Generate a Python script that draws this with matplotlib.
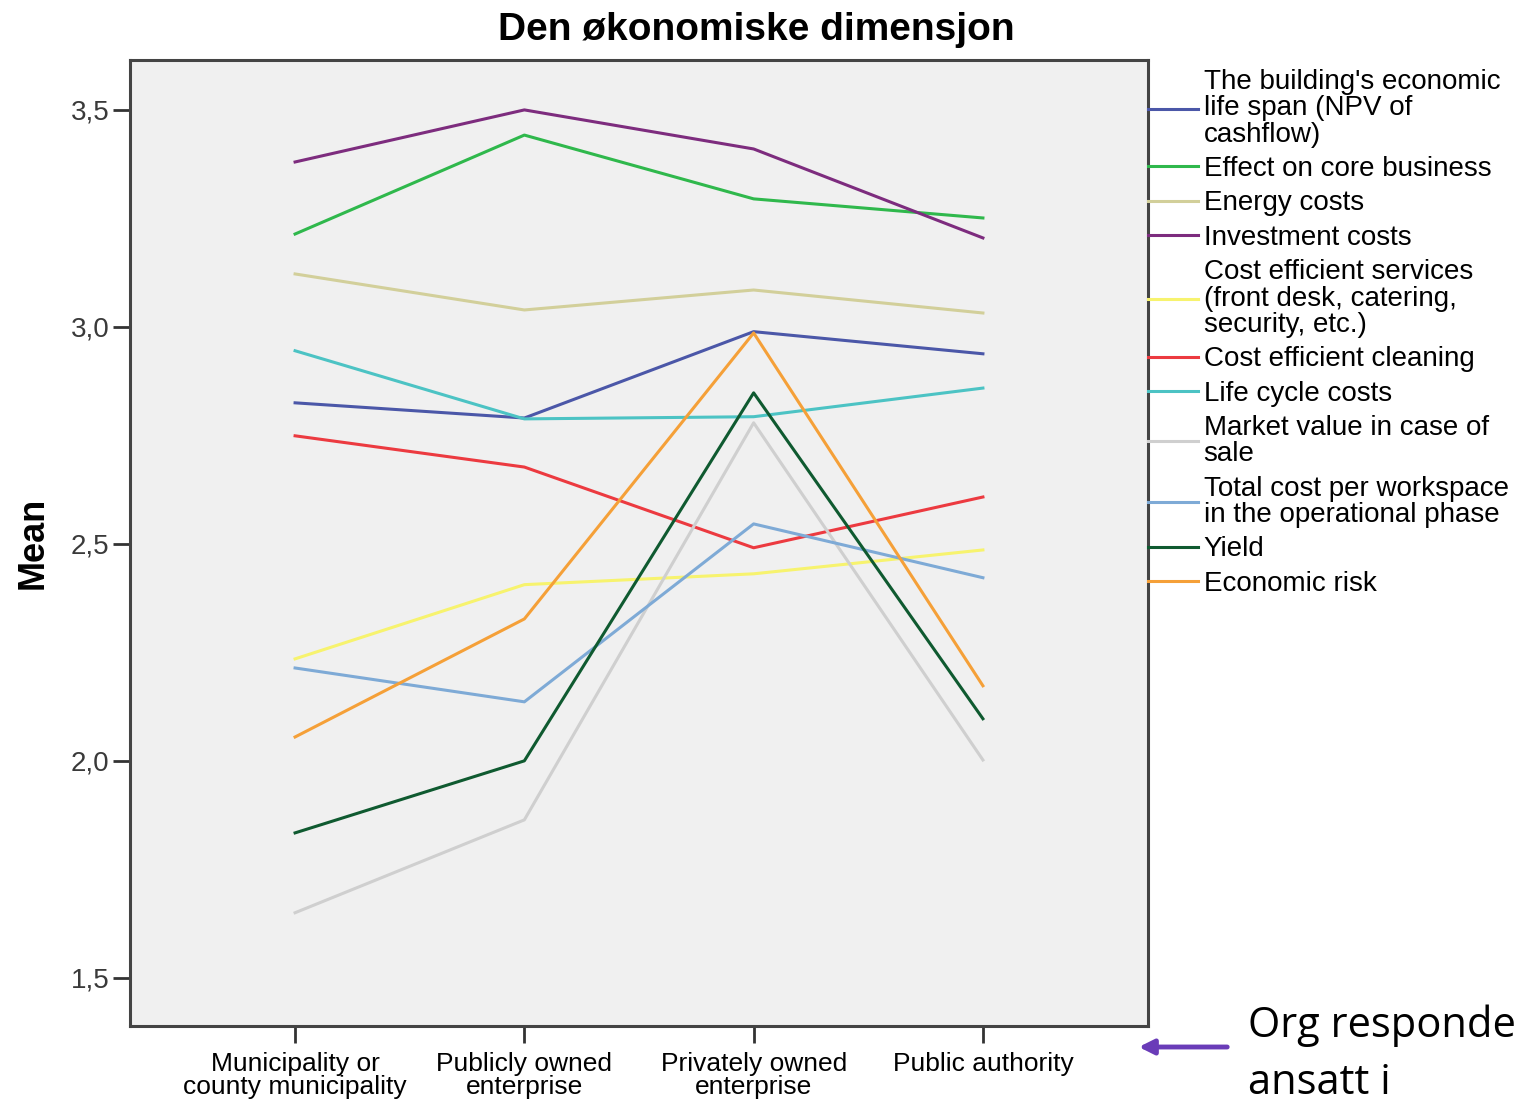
import matplotlib
matplotlib.use("Agg")
import matplotlib.pyplot as plt
from matplotlib.lines import Line2D

plt.rcParams["font.family"] = ["Liberation Sans", "DejaVu Sans"]

categories = ["Municipality or\ncounty municipality", "Publicly owned\nenterprise",
              "Privately owned\nenterprise", "Public authority"]

series_names = [
    "The building's economic\nlife span (NPV of\ncashflow)",
    "Effect on core business",
    "Energy costs",
    "Investment costs",
    "Cost efficient services\n(front desk, catering,\nsecurity, etc.)",
    "Cost efficient cleaning",
    "Life cycle costs",
    "Market value in case of\nsale",
    "Total cost per workspace\nin the operational phase",
    "Yield",
    "Economic risk",
]
building_life = [2.825, 2.79, 2.989, 2.938]
core_business = [3.214, 3.442, 3.295, 3.251]
energy_costs = [3.122, 3.039, 3.085, 3.032]
investment_costs = [3.38, 3.50, 3.41, 3.205]
cost_services = [2.235, 2.406, 2.431, 2.486]
cost_cleaning = [2.749, 2.677, 2.491, 2.608]
life_cycle = [2.945, 2.788, 2.793, 2.859]
market_value = [1.650, 1.864, 2.779, 2.002]
cost_workspace = [2.214, 2.136, 2.546, 2.422]
yield_ = [1.834, 2.0, 2.848, 2.097]
economic_risk = [2.055, 2.327, 2.986, 2.173]

series_values = [building_life, core_business, energy_costs, investment_costs, cost_services,
                 cost_cleaning, life_cycle, market_value, cost_workspace, yield_, economic_risk]
colors = ["#4b57a8", "#2fb84c", "#d2cf9a", "#7d2c7e", "#f7f36e", "#ec3a40",
          "#4cc3c4", "#cfcfcf", "#7eaad6", "#0f5a30", "#f5a038"]

fig = plt.figure(figsize=(15.19, 11.03), dpi=100)
ax = fig.add_axes([130 / 1519, 77 / 1103, 1018 / 1519, 966 / 1103])
ax.set_facecolor("#f0f0f0")

x = list(range(len(categories)))
for name, vals, color in zip(series_names, series_values, colors):
    ax.plot(x, vals, color=color, lw=2.2, label=name)

ax.set_xlim(-0.72, 3.72)
ax.set_ylim(1.389, 3.615)
ax.set_xticks(x)
ax.set_xticklabels(categories, fontsize=19, linespacing=0.95)
yt = [1.5, 2.0, 2.5, 3.0, 3.5]
ax.set_yticks(yt)
ax.set_yticklabels([f"{v:.1f}".replace(".", ",") for v in yt], fontsize=20, color="#3a3a3a")
ax.tick_params(axis="both", length=12, width=2, color="#333333", direction="out")
ax.tick_params(axis="x", pad=7)
ax.tick_params(axis="y", pad=3)
for s in ax.spines.values():
    s.set_linewidth(2.2)
    s.set_color("#444444")
ax.set_ylabel("Mean", fontsize=26, fontweight="bold", labelpad=14)

fig.text(0.498, 0.973, "Den økonomiske dimensjon", ha="center", va="center",
         fontsize=28, fontweight="bold")

handles = [Line2D([], [], color=c, lw=2.2) for c in colors]
fig.legend(handles, series_names, loc="upper left", bbox_to_anchor=(1148 / 1519, 1 - 69 / 1103),
           frameon=False, fontsize=20, handlelength=1.8, handletextpad=0.2,
           labelspacing=0.3, borderpad=0, borderaxespad=0)
for t in fig.legends[0].get_texts():
    t.set_linespacing(1.02)

fig.text(1248 / 1519, 1 - 1037 / 1103, "Org respondent", ha="left", va="baseline",
         fontsize=30, family=["Open Sans", "DejaVu Sans"])
fig.text(1248 / 1519, 1 - 1094 / 1103, "ansatt i", ha="left", va="baseline",
         fontsize=30, family=["Open Sans", "DejaVu Sans"])
fig.patches.append(matplotlib.patches.FancyArrowPatch(
    (1230 / 1519, 1 - 1047 / 1103), (1136 / 1519, 1 - 1047 / 1103),
    transform=fig.transFigure, arrowstyle="-|>", mutation_scale=22,
    color="#6a3cb8", lw=3.5))

fig.savefig("out.png", dpi=100)
